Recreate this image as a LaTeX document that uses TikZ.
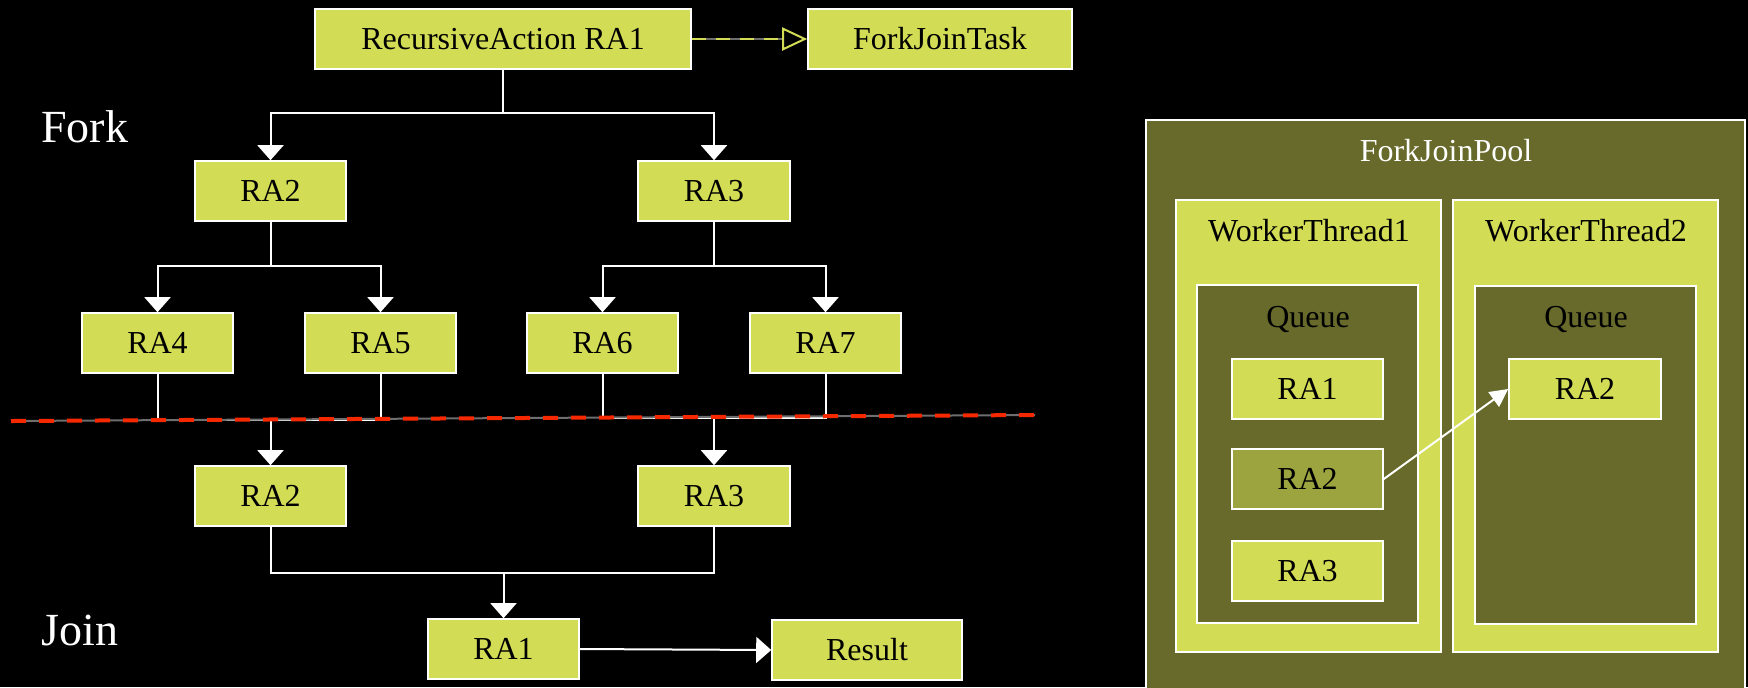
\documentclass[tikz,border=0pt]{standalone}
\usepackage{fontspec}
\setmainfont{Liberation Serif}
\usetikzlibrary{arrows.meta}

\definecolor{lime}{HTML}{D3DC55}
\definecolor{olive}{HTML}{676A2A}
\definecolor{limedark}{HTML}{9CA43F}
\definecolor{cutred}{HTML}{F52800}
\definecolor{cutgray}{HTML}{6E6E6E}

\tikzset{
  taskbox/.style={draw=white, line width=0.8pt, fill=lime, inner sep=0pt,
    minimum height=30pt, text height=10.6pt, text depth=0pt,
    font=\fontsize{16}{18}\selectfont, text=black},
  panel/.style={draw=white, line width=0.8pt, inner sep=0pt},
  wire/.style={draw=white, line width=1pt},
  flow/.style={wire, -{Triangle[length=7.5pt,width=13pt]}},
  steal/.style={wire, -{Triangle[length=9pt,width=9pt]}},
  caption/.style={font=\fontsize{16}{18}\selectfont, inner sep=0pt},
  phase/.style={font=\fontsize{23}{26}\selectfont, text=white, inner sep=0pt},
}

\begin{document}
\begin{tikzpicture}[x=0.5pt,y=-0.5pt]
  % canvas
  \fill[black] (0,0) rectangle (1748,687);
  \useasboundingbox (0,0) rectangle (1748,687);

  % ---- fork / join tree ----
  \node[taskbox, minimum width=188pt] (ra1top) at (503,39) {RecursiveAction RA1};
  \node[taskbox, minimum width=132pt] (fjt) at (940,39) {ForkJoinTask};

  \node[phase, anchor=base west] (fork) at (41,142) {Fork};
  \node[phase, anchor=base west] (join) at (41,645) {Join};

  \node[taskbox, minimum width=75.5pt] (ra2) at (270.5,191) {RA2};
  \node[taskbox, minimum width=76pt]   (ra3) at (714,191) {RA3};

  \node[taskbox, minimum width=75.5pt] (ra4) at (157.5,343) {RA4};
  \node[taskbox, minimum width=75.5pt] (ra5) at (380.5,343) {RA5};
  \node[taskbox, minimum width=75.5pt] (ra6) at (602.5,343) {RA6};
  \node[taskbox, minimum width=75.5pt] (ra7) at (825.5,343) {RA7};

  \node[taskbox, minimum width=75.5pt] (ra2b) at (270.5,496) {RA2};
  \node[taskbox, minimum width=76pt]   (ra3b) at (714,496) {RA3};

  \node[taskbox, minimum width=75.5pt] (ra1b) at (503.5,649) {RA1};
  \node[taskbox, minimum width=95pt]   (res) at (867,650) {Result};

  % branch points
  \coordinate (f1) at (503,113);
  \coordinate (f2) at (270.5,266);
  \coordinate (f3) at (714,266);
  \coordinate (j1) at (270.5,420);
  \coordinate (j2) at (714,418);
  \coordinate (j3) at (503.5,573);

  % forking
  \draw[wire] (ra1top.south) -- (f1);
  \draw[flow] (f1) -| (ra2.north);
  \draw[flow] (f1) -| (ra3.north);
  \draw[wire] (ra2.south) -- (f2);
  \draw[flow] (f2) -| (ra4.north);
  \draw[flow] (f2) -| (ra5.north);
  \draw[wire] (ra3.south) -- (f3);
  \draw[flow] (f3) -| (ra6.north);
  \draw[flow] (f3) -| (ra7.north);

  % joining
  \draw[wire] (ra4.south) |- (j1) -| (ra5.south);
  \draw[flow] (j1) -- (ra2b.north);
  \draw[wire] (ra6.south) |- (j2) -| (ra7.south);
  \draw[flow] (j2) -- (ra3b.north);
  \draw[wire] (ra2b.south) |- (j3) -| (ra3b.south);
  \draw[flow] (j3) -- (ra1b.north);
  \draw[flow] (ra1b.east) -- (res.west);

  % inheritance link
  \draw[cutgray, line width=1pt, shorten >=12pt] (ra1top.east) -- (fjt.west);
  \draw[lime, line width=1pt, dash pattern=on 7pt off 5pt,
        -{Triangle[open,length=12.5pt,width=11.5pt]}] (ra1top.east) -- (fjt.west);

  % fork/join boundary
  \coordinate (cutL) at (11,421);
  \coordinate (cutR) at (1035,415);
  \draw[cutgray, line width=1pt] (cutL) -- (cutR);
  \draw[cutred, line width=2pt, dash pattern=on 7.5pt off 6.5pt] (cutL) -- (cutR);

  % ---- pool ----
  \draw[panel, fill=olive] (1146,120) rectangle (1745,700);
  \node[caption, text=white, anchor=base] (pooltitle) at (1446,161) {ForkJoinPool};

  \draw[panel, fill=lime] (1176,200) rectangle (1441,652);
  \draw[panel, fill=lime] (1453,200) rectangle (1718,652);
  \node[caption, anchor=base] (wt1) at (1309,241) {WorkerThread1};
  \node[caption, anchor=base] (wt2) at (1586,241) {WorkerThread2};

  \draw[panel, fill=olive] (1197,285) rectangle (1418,623);
  \draw[panel, fill=olive] (1475,286) rectangle (1696,624);
  \node[caption, anchor=base] (q1) at (1308,327) {Queue};
  \node[caption, anchor=base] (q2) at (1586,327) {Queue};

  \node[taskbox, minimum width=75.5pt] (qra1) at (1307.5,389) {RA1};
  \node[taskbox, minimum width=75.5pt, fill=limedark] (qra2) at (1307.5,479) {RA2};
  \node[taskbox, minimum width=75.5pt] (qra3) at (1307.5,571) {RA3};
  \node[taskbox, minimum width=76pt] (sra2) at (1585,389) {RA2};

  \draw[steal] (qra2.east) -- (sra2.west);
\end{tikzpicture}
\end{document}
